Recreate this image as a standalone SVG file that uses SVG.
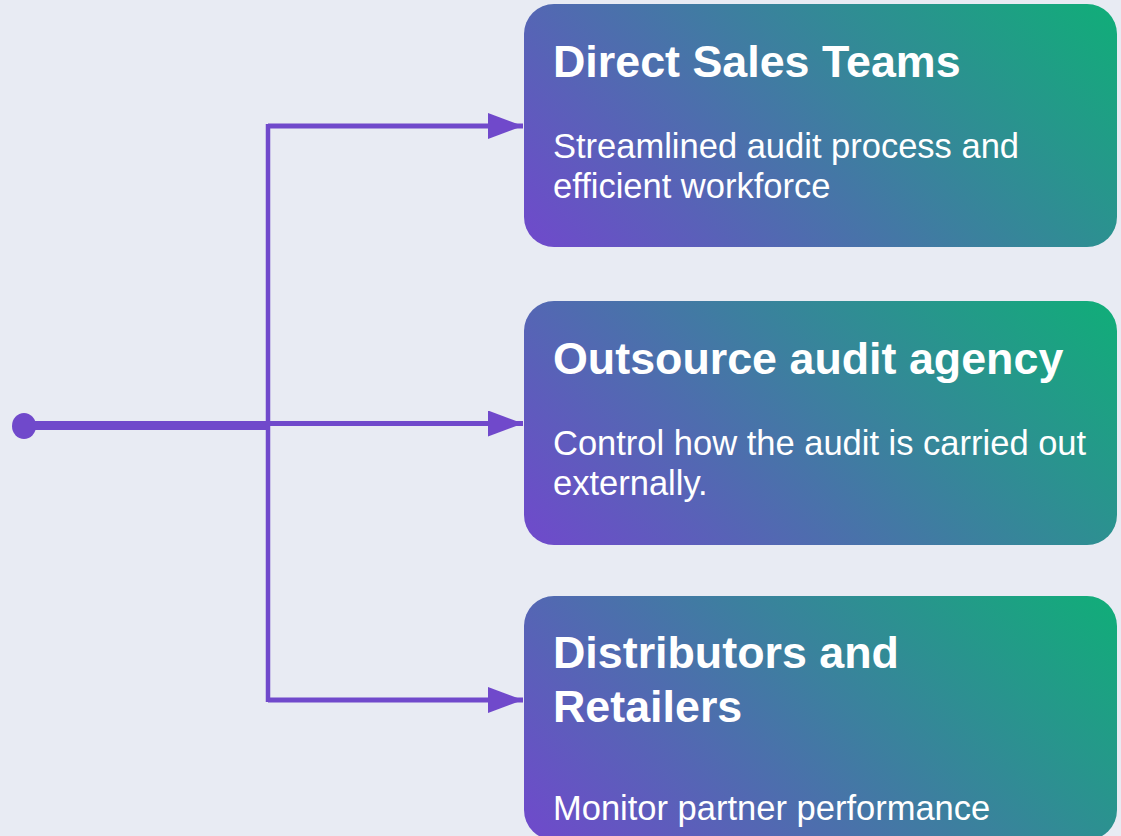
<svg xmlns="http://www.w3.org/2000/svg" width="1121" height="836" viewBox="0 0 1121 836">
  <style>
    .box { fill: url(#grad); }
    .title { font-family: "Liberation Sans", Arial, sans-serif; font-weight: bold; font-size: 44.8px; fill: #ffffff; }
    .body { font-family: "Liberation Sans", Arial, sans-serif; font-size: 34.5px; fill: #ffffff; }
    .conn { stroke: #7049CB; fill: none; }
  </style>
  <defs>
    <linearGradient id="grad" gradientUnits="userSpaceOnUse" x1="87.5" y1="330.5" x2="505.5" y2="-87.5">
      <stop offset="0" stop-color="#7049CC"/>
      <stop offset="1" stop-color="#10AE78"/>
    </linearGradient>
    <marker id="arrow" markerUnits="userSpaceOnUse" markerWidth="36" markerHeight="26" refX="35" refY="13" orient="auto">
      <path d="M0,0 L35,13 L0,26 Z" fill="#7049CB"/>
    </marker>
  </defs>
  <rect width="1121" height="836" fill="#E8EBF3"/>

  <g id="connectors">
    <ellipse cx="24" cy="426" rx="12" ry="13" fill="#7049CB"/>
    <line class="conn" x1="24" y1="425.5" x2="268" y2="425.5" stroke-width="9"/>
    <line class="conn" x1="268" y1="124" x2="268" y2="702" stroke-width="4.5"/>
    <path class="conn" d="M268,126 H523" stroke-width="5" marker-end="url(#arrow)"/>
    <path class="conn" d="M268,423.5 H523" stroke-width="5" marker-end="url(#arrow)"/>
    <path class="conn" d="M268,700 H523" stroke-width="5" marker-end="url(#arrow)"/>
  </g>

  <g id="node-direct-sales" transform="translate(524,4)">
    <rect class="box" x="0" y="0" width="593" height="243" rx="30" ry="30"/>
    <text class="title" x="29" y="73">Direct Sales Teams</text>
    <text class="body" x="29" y="154">Streamlined audit process and</text>
    <text class="body" x="29" y="194">efficient workforce</text>
  </g>

  <g id="node-outsource" transform="translate(524,301)">
    <rect class="box" x="0" y="0" width="593" height="244" rx="30" ry="30"/>
    <text class="title" x="29" y="73">Outsource audit agency</text>
    <text class="body" x="29" y="154">Control how the audit is carried out</text>
    <text class="body" x="29" y="194">externally.</text>
  </g>

  <g id="node-distributors" transform="translate(524,596)">
    <rect class="box" x="0" y="0" width="593" height="244" rx="30" ry="30"/>
    <text class="title" x="29" y="72">Distributors and</text>
    <text class="title" x="29" y="126">Retailers</text>
    <text class="body" x="29" y="224">Monitor partner performance</text>
  </g>
</svg>
